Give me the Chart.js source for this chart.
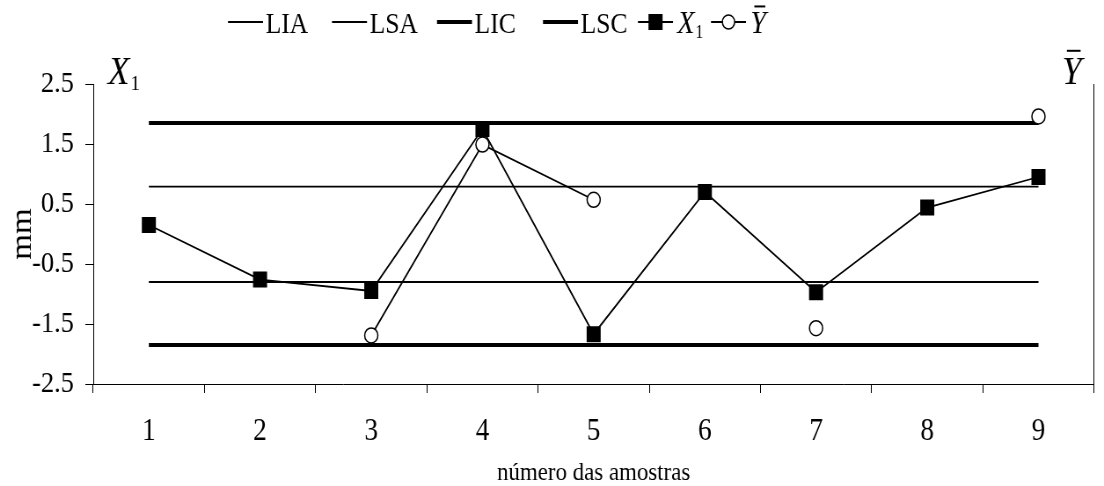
<!DOCTYPE html>
<html>
<head>
<meta charset="utf-8">
<script src="https://cdn.jsdelivr.net/npm/chart.js@4/dist/chart.umd.min.js"></script>
<style>
  html, body { margin: 0; padding: 0; background: #fff; }
  #grafico { display: block; }
</style>
</head>
<body>
<canvas id="grafico" width="1255" height="486" style="width:1104px;height:486px"></canvas>
<script>
// dados
const categorias = ['1', '2', '3', '4', '5', '6', '7', '8', '9'];
const lia = [-0.80, -0.80, -0.80, -0.80, -0.80, -0.80, -0.80, -0.80, -0.80];
const lsa = [0.79, 0.79, 0.79, 0.79, 0.79, 0.79, 0.79, 0.79, 0.79];
const lic = [-1.85, -1.85, -1.85, -1.85, -1.85, -1.85, -1.85, -1.85, -1.85];
const lsc = [1.85, 1.85, 1.85, 1.85, 1.85, 1.85, 1.85, 1.85, 1.85];
const x1 = [0.15, -0.76, -0.95, 1.75, -1.67, 0.70, -0.97, 0.44, 0.95];
const yBarra = [null, null, -1.69, 1.49, 0.57, null, -1.57, null, 1.96];
const yTicks = [-2.5, -1.5, -0.5, 0.5, 1.5, 2.5];

// o canvas e desenhado mais largo e depois apertado para 1104px (o original esta esticado na vertical)
const ESCALA = 1104 / 1255;
function cx(x) { return x / ESCALA; }

const FONTE = 'Liberation Serif';
const FINA = 1.8, GROSSA = 4;

function escreverX1(ctx, x, base, tam) {
    ctx.font = 'italic ' + tam + 'px "' + FONTE + '"';
    ctx.fillText('X', x, base);
    x += ctx.measureText('X').width + 1;
    ctx.font = Math.round(tam * 0.55) + 'px "' + FONTE + '"';
    ctx.fillText('1', x, base + tam * 0.15);
    return x + ctx.measureText('1').width;
}

function escreverYBarra(ctx, x, base, tam) {
    ctx.font = 'italic ' + tam + 'px "' + FONTE + '"';
    ctx.fillText('Y', x, base);
    const w = ctx.measureText('Y').width;
    ctx.lineWidth = 2;
    ctx.beginPath();
    ctx.moveTo(x + w * 0.25, base - tam * 0.83);
    ctx.lineTo(x + w * 0.95, base - tam * 0.83);
    ctx.stroke();
    return x + w;
}

// posicoes (px da imagem) de cada item da legenda
const legenda = [
    { texto: 'LIA', espessura: FINA, linha: 228 },
    { texto: 'LSA', espessura: FINA, linha: 332 },
    { texto: 'LIC', espessura: GROSSA, linha: 437 },
    { texto: 'LSC', espessura: GROSSA, linha: 543 },
    { texto: 'X1', espessura: FINA, linha: 638, marcador: 'quadrado' },
    { texto: 'Y', espessura: FINA, linha: 711, marcador: 'circulo' }
];

const rotulosExtras = {
    id: 'rotulosExtras',
    afterDraw(chart) {
        const ctx = chart.ctx;
        ctx.save();
        ctx.fillStyle = '#000';
        ctx.strokeStyle = '#000';
        ctx.textBaseline = 'alphabetic';

        const base = 33, meio = 22;
        legenda.forEach(item => {
            const x0 = cx(item.linha), x1f = cx(item.linha + 35), xm = (x0 + x1f) / 2;
            ctx.lineWidth = item.espessura;
            ctx.beginPath();
            ctx.moveTo(x0, meio);
            ctx.lineTo(x1f, meio);
            ctx.stroke();
            if (item.marcador === 'quadrado') {
                ctx.fillRect(xm - 8, meio - 8, 16, 16);
            } else if (item.marcador === 'circulo') {
                ctx.beginPath();
                ctx.arc(xm, meio, 7, 0, Math.PI * 2);
                ctx.fillStyle = '#fff';
                ctx.fill();
                ctx.fillStyle = '#000';
                ctx.lineWidth = 1.5;
                ctx.stroke();
            }
            const xt = x1f + 3;
            if (item.texto === 'X1') {
                escreverX1(ctx, xt + 2, base, 32);
            } else if (item.texto === 'Y') {
                escreverYBarra(ctx, xt + 2, base, 32);
            } else {
                ctx.font = '29px "' + FONTE + '"';
                ctx.fillText(item.texto, xt, base);
            }
        });

        // rotulos dos eixos no topo
        escreverX1(ctx, cx(108), 84, 40);
        escreverYBarra(ctx, cx(1062), 84, 40);
        ctx.restore();
    }
};

const ctx = document.getElementById('grafico').getContext('2d');
new Chart(ctx, {
    type: 'line',
    data: {
        labels: categorias,
        datasets: [
            { label: 'LIA', data: lia, borderColor: '#000', borderWidth: FINA, pointRadius: 0, order: 5 },
            { label: 'LSA', data: lsa, borderColor: '#000', borderWidth: FINA, pointRadius: 0, order: 4 },
            { label: 'LIC', data: lic, borderColor: '#000', borderWidth: GROSSA, pointRadius: 0, order: 3 },
            { label: 'LSC', data: lsc, borderColor: '#000', borderWidth: GROSSA, pointRadius: 0, order: 2 },
            {
                label: 'X1', data: x1, borderColor: '#000', borderWidth: FINA,
                pointStyle: 'rect', pointRadius: 11.3, pointBackgroundColor: '#000',
                pointBorderColor: '#000', pointBorderWidth: 0, order: 1
            },
            {
                label: 'Ybarra', data: yBarra, borderColor: '#000', borderWidth: FINA,
                pointStyle: 'circle', pointRadius: 7.5, pointBackgroundColor: '#fff',
                pointBorderColor: '#000', pointBorderWidth: 1.5, spanGaps: false, order: 0
            }
        ]
    },
    options: {
        responsive: false,
        animation: false,
        events: [],
        layout: { padding: { top: 84, left: 0, right: 0, bottom: 0 } },
        plugins: { legend: { display: false }, tooltip: { enabled: false } },
        scales: {
            x: {
                type: 'category',
                offset: true,
                afterFit: s => { s.height = 102; },
                grid: { offset: true, drawOnChartArea: false, drawTicks: true, tickLength: 9, color: '#000' },
                border: { color: '#000', width: 1 },
                ticks: { color: '#000', padding: 20, font: { family: FONTE, size: 31 } },
                title: {
                    display: true, text: 'número das amostras', color: '#000',
                    padding: { top: 0, bottom: 0 }, font: { family: FONTE, size: 26, lineHeight: 1 }
                }
            },
            y: {
                position: 'left',
                min: -2.5,
                max: 2.5,
                afterFit: s => { s.width = 106; },
                afterBuildTicks: s => { s.ticks = yTicks.map(v => ({ value: v })); },
                grid: { drawOnChartArea: false, drawTicks: true, tickLength: 9, color: '#000' },
                border: { color: '#000', width: 1 },
                ticks: {
                    color: '#000', padding: 13, font: { family: FONTE, size: 30 },
                    callback: v => v.toFixed(1)
                },
                title: {
                    display: true, text: 'mm', color: '#000',
                    padding: { top: 10, bottom: 0 }, font: { family: FONTE, size: 33, lineHeight: 1 }
                }
            },
            y2: {
                position: 'right',
                min: -2.5,
                max: 2.5,
                afterFit: s => { s.width = 4; },
                grid: { drawOnChartArea: false, drawTicks: false },
                border: { color: '#000', width: 1 },
                ticks: { display: false }
            }
        }
    },
    plugins: [rotulosExtras]
});
</script>
</body>
</html>
